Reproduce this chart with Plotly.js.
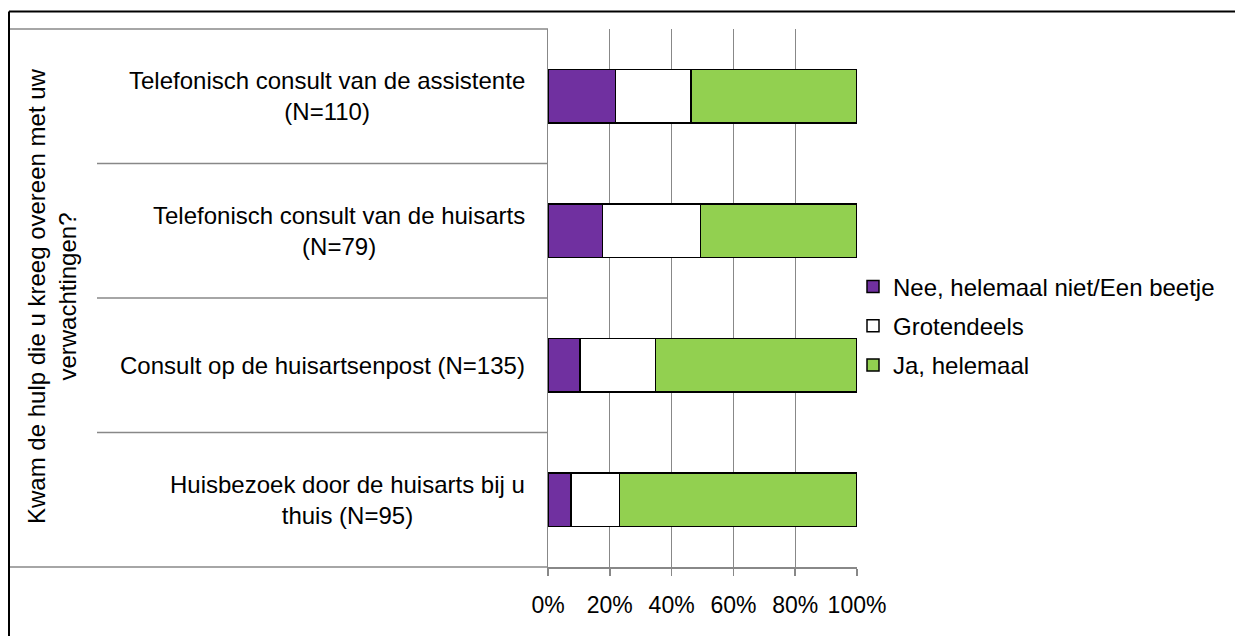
<!DOCTYPE html>
<html>
<head>
<meta charset="utf-8">
<script src="https://cdn.plot.ly/plotly-3.0.1.min.js"></script>
<style>
html,body{margin:0;padding:0;background:#fff;}
#chart{width:1235px;height:636px;}
</style>
</head>
<body>
<div id="chart"></div>
<script>
// ---- data ----
var categories = [
  "Telefonisch consult van de assistente (N=110)",
  "Telefonisch consult van de huisarts (N=79)",
  "Consult op de huisartsenpost (N=135)",
  "Huisbezoek door de huisarts bij u thuis (N=95)"
];
var categoryLabels = [
  "Telefonisch consult van de assistente<br>(N=110)",
  "Telefonisch consult van de huisarts<br>(N=79)",
  "Consult op de huisartsenpost (N=135)",
  "Huisbezoek door de huisarts bij u<br>thuis (N=95)"
];
var seriesNames = ["Nee, helemaal niet/Een beetje", "Grotendeels", "Ja, helemaal"];
var neeValues = [21.8, 17.7, 10.4, 7.4];
var grotendeelsValues = [24.5, 31.6, 24.4, 15.8];
var jaValues = [53.7, 50.7, 65.2, 76.8];
var xTickValues = [0, 20, 40, 60, 80, 100];
var xTickLabels = ["0%", "20%", "40%", "60%", "80%", "100%"];
var yTitle = "Kwam de hulp die u kreeg overeen met uw<br>verwachtingen?";

// ---- styling ----
var FONT = "Liberation Sans, Arial, sans-serif";
var GREY = "#888888";
var colors = ["#7030A0", "#FFFFFF", "#92D050"];
var seriesValues = [neeValues, grotendeelsValues, jaValues];

var W = 1235, H = 636;
var L = 548, R = 378, T = 29, B = 69;
var pw = W - L - R, ph = H - T - B;
function px2x(p){ return (p - L) / pw; }
function py2y(p){ return (H - B - p) / ph; }

var traces = seriesNames.map(function(name, i){
  return {
    type: "bar",
    orientation: "h",
    name: name,
    legendgroup: "g" + i,
    y: categories,
    x: seriesValues[i],
    marker: {color: colors[i], line: {color: "#000000", width: 1.5}},
    hoverinfo: "skip"
  };
});

var annotations = categories.map(function(c, i){
  return {
    xref: "x", yref: "y", x: 0, y: c,
    xanchor: "right", yanchor: "middle", xshift: -21,
    text: categoryLabels[i], align: "center", showarrow: false,
    font: {family: FONT, size: 24, color: "#000"}
  };
});
annotations.push({
  xref: "paper", yref: "paper", x: px2x(52), y: py2y(296),
  xanchor: "center", yanchor: "middle", textangle: -90,
  text: yTitle, align: "center", showarrow: false,
  font: {family: FONT, size: 24, color: "#000"}
});

var shapes = [];
// inner category separators (extend left of the axis)
for (var k = 0; k < categories.length - 1; k++) {
  shapes.push({type: "line", xref: "paper", yref: "y",
    x0: px2x(97), x1: 0, y0: k + 0.5, y1: k + 0.5,
    line: {color: GREY, width: 1.5}});
}
// outer separators at top and bottom of plot
shapes.push({type: "line", xref: "paper", yref: "paper",
  x0: px2x(9), x1: 0, y0: 1, y1: 1, line: {color: GREY, width: 1.5}});
shapes.push({type: "line", xref: "paper", yref: "paper",
  x0: px2x(9), x1: 0, y0: 0, y1: 0, line: {color: GREY, width: 1.5}});
// frame (top + left)
shapes.push({type: "line", xref: "paper", yref: "paper",
  x0: px2x(9), x1: px2x(1236), y0: py2y(11.5), y1: py2y(11.5), line: {color: "#000", width: 2}});
shapes.push({type: "line", xref: "paper", yref: "paper",
  x0: px2x(9), x1: px2x(9), y0: py2y(11.5), y1: py2y(637), line: {color: "#000", width: 2}});

var layout = {
  width: W, height: H,
  margin: {l: L, r: R, t: T, b: B, pad: 0},
  paper_bgcolor: "#fff", plot_bgcolor: "#fff",
  barmode: "stack", bargap: 0.6,
  font: {family: FONT, size: 24, color: "#000"},
  xaxis: {
    range: [0, 100], tickmode: "array", tickvals: xTickValues, ticktext: xTickLabels,
    showgrid: true, gridcolor: GREY, gridwidth: 1,
    zeroline: false, showline: true, linecolor: GREY, linewidth: 1.5,
    ticks: "outside", ticklen: 7, tickcolor: GREY, tickwidth: 1.5,
    ticklabelstandoff: 10,
    tickfont: {family: FONT, size: 23, color: "#000"},
    fixedrange: true
  },
  yaxis: {
    type: "category", autorange: "reversed",
    showticklabels: false, showgrid: false, zeroline: false,
    showline: true, linecolor: GREY, linewidth: 1.5, ticks: "",
    fixedrange: true
  },
  legend: {
    x: px2x(853), xanchor: "left", y: py2y(326), yanchor: "middle",
    traceorder: "grouped", tracegroupgap: 5,
    font: {family: FONT, size: 24, color: "#000"},
    bgcolor: "rgba(0,0,0,0)"
  },
  annotations: annotations,
  shapes: shapes,
  showlegend: true
};

Plotly.newPlot("chart", traces, layout, {displayModeBar: false, staticPlot: true});
</script>
</body>
</html>
